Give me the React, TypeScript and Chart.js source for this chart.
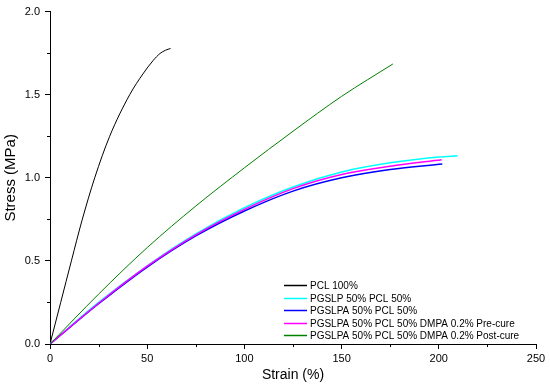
import React, { useEffect, useRef } from 'react';
import { Chart, registerables } from 'chart.js';
Chart.register(...registerables);

const seriesNames = [
  'PCL 100%',
  'PGSLP 50% PCL 50%',
  'PGSLPA 50% PCL 50%',
  'PGSLPA 50% PCL 50% DMPA 0.2% Pre-cure',
  'PGSLPA 50% PCL 50% DMPA 0.2% Post-cure',
];
const seriesColors = ['#000000', '#00ffff', '#0000ff', '#ff00ff', '#008000'];

const pclStrain = [0, 5.5, 11, 16.5, 23, 30.7, 41, 47.8, 53, 56.6, 59.5, 62];
const pclStress = [0, 0.25, 0.5, 0.745, 1.0, 1.25, 1.5, 1.625, 1.705, 1.748, 1.768, 1.778];

const pgslpStrain = [0, 25, 50, 75, 100, 125, 150, 175, 200, 209.7];
const pgslpStress = [0, 0.25, 0.47, 0.662, 0.82, 0.945, 1.035, 1.09, 1.125, 1.132];

const pgslpaStrain = [0, 25, 50, 75, 100, 125, 150, 175, 201.8];
const pgslpaStress = [0, 0.242, 0.463, 0.65, 0.8, 0.92, 1.0, 1.05, 1.083];

const preStrain = [0, 25, 50, 75, 100, 125, 150, 175, 201.5];
const preStress = [0, 0.245, 0.468, 0.657, 0.81, 0.935, 1.02, 1.07, 1.108];

const postStrain = [0, 25, 50, 75, 100, 125, 150, 176.4];
const postStress = [0, 0.3, 0.58, 0.83, 1.06, 1.28, 1.49, 1.685];

const xMajorTicks = [0, 50, 100, 150, 200, 250];
const xMinorTicks = [25, 75, 125, 175, 225];
const yMajorTicks = [0, 0.5, 1.0, 1.5, 2.0];
const yMinorTicks = [0.25, 0.75, 1.25, 1.75];

const FONT = "'Liberation Sans', Arial, sans-serif";

const toPoints = (xs: number[], ys: number[]) => xs.map((x, i) => ({ x, y: ys[i] }));

const minorTickPlugin = {
  id: 'minorTicks',
  afterDraw(chart: any) {
    const ctx = chart.ctx;
    const xs = chart.scales.x;
    const ys = chart.scales.y;
    const area = chart.chartArea;
    ctx.save();
    ctx.strokeStyle = '#000000';
    ctx.lineWidth = 1;
    ctx.beginPath();
    xMinorTicks.forEach((v) => {
      const px = Math.round(xs.getPixelForValue(v)) + 0.5;
      ctx.moveTo(px, area.bottom);
      ctx.lineTo(px, area.bottom + 3);
    });
    yMinorTicks.forEach((v) => {
      const py = Math.round(ys.getPixelForValue(v)) + 0.5;
      ctx.moveTo(area.left - 3, py);
      ctx.lineTo(area.left, py);
    });
    ctx.stroke();
    ctx.restore();
  },
};

const legendPlugin = {
  id: 'innerLegend',
  afterDraw(chart: any) {
    const ctx = chart.ctx;
    ctx.save();
    ctx.font = `10px ${FONT}`;
    ctx.textBaseline = 'middle';
    ctx.textAlign = 'left';
    const rowY0 = 285;
    const rowH = 12.6;
    seriesNames.forEach((name, i) => {
      const y = Math.round(rowY0 + i * rowH);
      ctx.strokeStyle = seriesColors[i];
      ctx.lineWidth = 1.5;
      ctx.beginPath();
      ctx.moveTo(284, y + 0.5);
      ctx.lineTo(307, y + 0.5);
      ctx.stroke();
      ctx.fillStyle = '#000000';
      ctx.fillText(name, 310, y + 1);
    });
    ctx.restore();
  },
};

export default function App() {
  const canvasRef = useRef<HTMLCanvasElement | null>(null);

  useEffect(() => {
    document.body.style.margin = '0';
    const canvas = canvasRef.current;
    if (!canvas) return;
    const allX = [pclStrain, pgslpStrain, pgslpaStrain, preStrain, postStrain];
    const allY = [pclStress, pgslpStress, pgslpaStress, preStress, postStress];
    const widths = [1, 1.5, 1.5, 1.5, 1];
    const chart = new Chart(canvas, {
      type: 'line',
      data: {
        datasets: seriesNames.map((name, i) => ({
          label: name,
          data: toPoints(allX[i], allY[i]),
          borderColor: seriesColors[i],
          backgroundColor: seriesColors[i],
          borderWidth: widths[i],
          pointRadius: 0,
          fill: false,
          cubicInterpolationMode: 'monotone' as const,
          order: seriesNames.length - i,
        })),
      },
      options: {
        animation: false,
        responsive: false,
        maintainAspectRatio: false,
        events: [],
        layout: { padding: { left: 0, right: 14, top: 9, bottom: 0 } },
        plugins: {
          legend: { display: false },
          tooltip: { enabled: false },
        },
        scales: {
          x: {
            type: 'linear',
            min: 0,
            max: 250,
            afterBuildTicks: (scale: any) => {
              scale.ticks = xMajorTicks.map((v) => ({ value: v }));
            },
            afterFit: (scale: any) => {
              scale.height = 46;
            },
            ticks: {
              color: '#000000',
              font: { family: FONT, size: 11 },
              padding: 3,
              maxRotation: 0,
              callback: (v: any) => String(v),
            },
            grid: {
              display: true,
              drawOnChartArea: false,
              drawTicks: true,
              tickLength: 5,
              color: '#000000',
            },
            border: { display: true, color: '#000000', width: 1 },
            title: {
              display: true,
              text: 'Strain (%)',
              color: '#000000',
              font: { family: FONT, size: 14 },
              padding: { top: 0, bottom: 6 },
            },
          },
          y: {
            type: 'linear',
            min: 0,
            max: 2,
            afterBuildTicks: (scale: any) => {
              scale.ticks = yMajorTicks.map((v) => ({ value: v }));
            },
            afterFit: (scale: any) => {
              scale.width = 50;
            },
            ticks: {
              color: '#000000',
              font: { family: FONT, size: 11 },
              padding: 5,
              callback: (v: any) => Number(v).toFixed(1),
            },
            grid: {
              display: true,
              drawOnChartArea: false,
              drawTicks: true,
              tickLength: 5,
              color: '#000000',
            },
            border: { display: true, color: '#000000', width: 1 },
            title: {
              display: true,
              text: 'Stress (MPa)',
              color: '#000000',
              font: { family: FONT, size: 15 },
              padding: { top: 2, bottom: 0 },
            },
          },
        },
      },
      plugins: [minorTickPlugin, legendPlugin],
    });
    return () => chart.destroy();
  }, []);

  return (
    <div style={{ width: 550, height: 390, background: '#ffffff' }}>
      <canvas ref={canvasRef} width={550} height={390} style={{ display: 'block' }} />
    </div>
  );
}
